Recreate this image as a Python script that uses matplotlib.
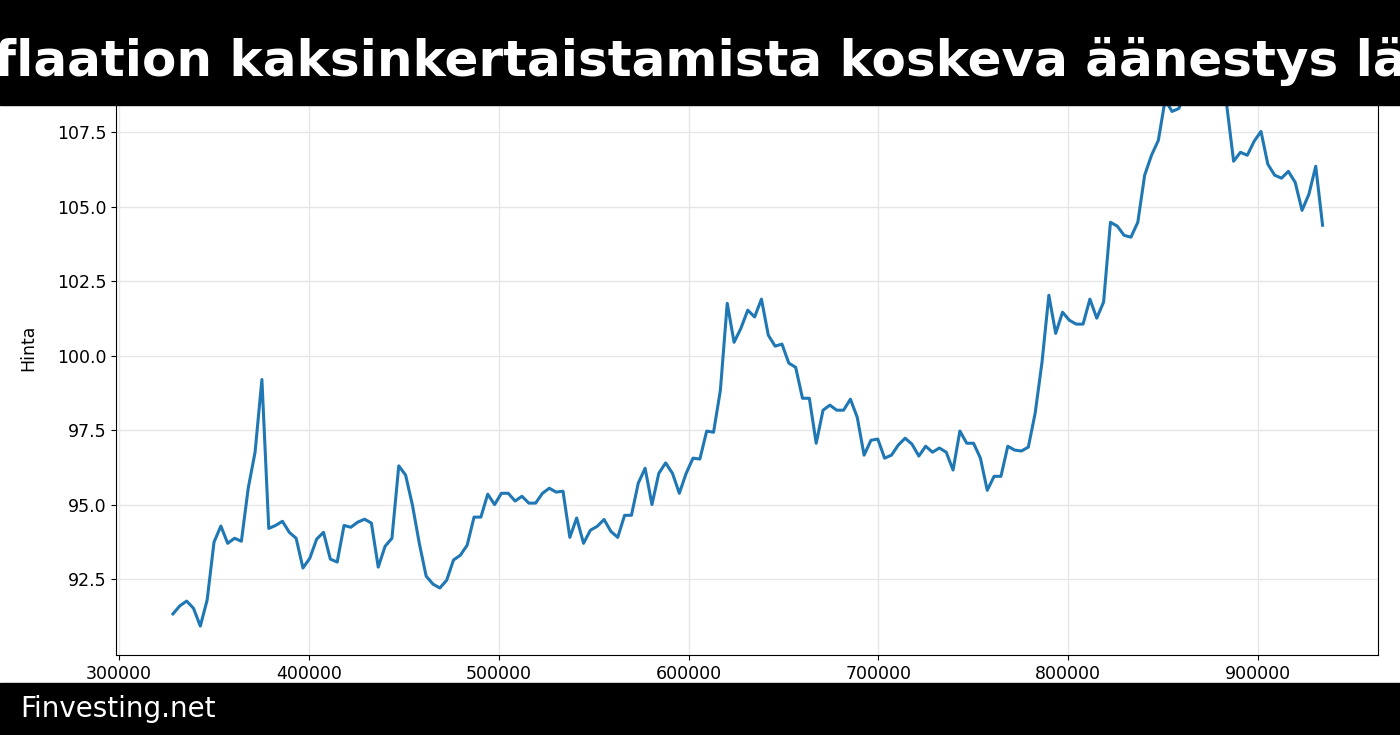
import numpy as np
import matplotlib
matplotlib.use("Agg")
import matplotlib.pyplot as plt

title = "Inflaation kaksinkertaistamista koskeva äänestys läpi"
footer = "Finvesting.net"
ylabel = "Hinta"
x_start, x_end = 328400, 934000
prices = [
91.33,91.6,91.76,91.52,90.92,91.8,93.74,94.28,93.7,93.87,93.77,95.55,96.76,99.2,94.2,94.3,94.44,94.07,93.87,92.87,
93.2,93.84,94.07,93.17,93.07,94.3,94.24,94.41,94.51,94.38,92.9,93.6,93.87,96.3,95.99,94.98,93.7,92.6,92.33,92.2,
92.46,93.14,93.3,93.64,94.58,94.58,95.35,95.0,95.38,95.38,95.12,95.28,95.05,95.05,95.38,95.55,95.42,95.45,93.9,94.55,
93.7,94.14,94.27,94.5,94.1,93.9,94.64,94.64,95.72,96.22,95.0,96.05,96.4,96.05,95.38,96.05,96.56,96.53,97.47,97.43,
98.84,101.76,100.45,100.92,101.53,101.3,101.9,100.69,100.32,100.39,99.75,99.61,98.57,98.57,97.06,98.17,98.34,98.17,98.17,98.54,
97.93,96.66,97.16,97.2,96.56,96.66,97.0,97.23,97.03,96.63,96.96,96.76,96.9,96.76,96.16,97.47,97.06,97.06,96.56,95.48,
95.95,95.95,96.96,96.83,96.8,96.93,98.07,99.78,102.03,100.75,101.46,101.19,101.06,101.06,101.9,101.26,101.8,104.48,104.35,104.04,
103.98,104.48,106.06,106.73,107.23,108.6,108.2,108.3,108.9,109.5,109.2,109.8,109.4,108.9,108.4,106.53,106.83,106.73,107.2,107.53,
106.43,106.06,105.96,106.19,105.82,104.88,105.42,106.36,104.38]
x = np.linspace(x_start, x_end, len(prices))

fig = plt.figure(figsize=(14, 7.35), dpi=100)
ax = fig.add_axes([116/1400, 1-655/735, (1378-116)/1400, (655-40)/735])
ax.plot(x, prices, color="#1f77b4", lw=2.2)
ax.set_xlim(298400, 963200)
ax.set_ylim(89.95, 110.6)
ax.set_yticks([92.5, 95.0, 97.5, 100.0, 102.5, 105.0, 107.5])
ax.set_xticks([300000, 400000, 500000, 600000, 700000, 800000, 900000])
ax.tick_params(labelsize=12.5)
ax.set_ylabel(ylabel, fontsize=12.5, labelpad=14)
ax.grid(True, color="#e6e6e6", lw=1)
ax.set_axisbelow(True)

fig.patches.append(plt.Rectangle((0, 1-105/735), 1, 105/735, transform=fig.transFigure, color="black", zorder=10))
fig.patches.append(plt.Rectangle((0, 0), 1, 52/735, transform=fig.transFigure, color="black", zorder=10))
fig.text(0.5, 1-61/735, title, color="white", fontsize=36, fontweight="bold", ha="center", va="center", zorder=11)
fig.text(20/1400, 26/735, footer, color="white", fontsize=20, ha="left", va="center", zorder=11)
fig.savefig("out.png", dpi=100)
